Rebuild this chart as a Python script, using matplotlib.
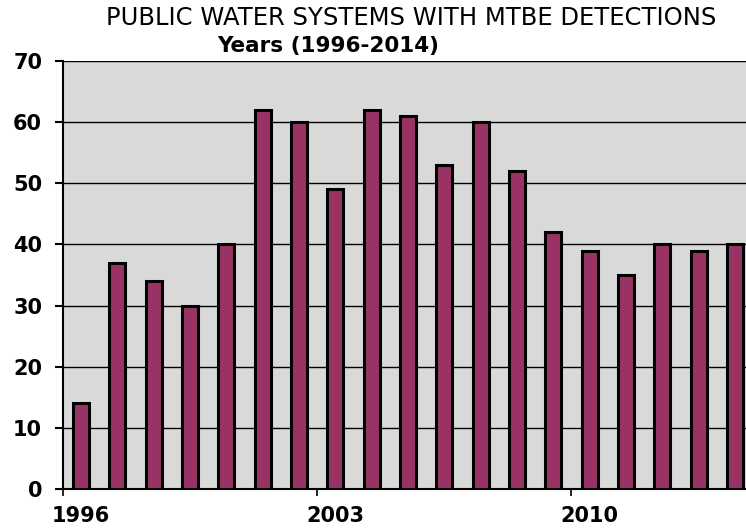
import matplotlib.pyplot as plt
import numpy as np

YEARS = list(range(1996, 2015))
DETECTIONS = [14, 37, 34, 30, 40, 62, 60, 49, 62, 61, 53, 60, 52, 42, 39, 35, 40, 39, 40]
YTICKS = [0, 10, 20, 30, 40, 50, 60, 70]
XLABEL_YEARS = [1996, 2003, 2010]

plt.rcParams["font.family"] = ["DejaVu Sans"]

fig = plt.figure(figsize=(7.46, 5.29), dpi=100)
# axes runs slightly past the right edge of the picture, as in the original
ax = fig.add_axes([63 / 746, 1 - 489 / 529, 690 / 746, 428 / 529])
ax.set_facecolor("#D9D9D9")

x = np.arange(len(YEARS))
ax.bar(x, DETECTIONS, width=0.44, color="#993366", edgecolor="black",
       linewidth=2.2, zorder=3)

ax.set_xlim(-0.5, len(YEARS) - 0.5)
ax.set_ylim(0, 70)
ax.set_yticks(YTICKS)
ax.set_yticklabels([str(v) for v in YTICKS], fontsize=15, fontweight="bold")
ax.yaxis.grid(True, color="black", linewidth=1.0, zorder=1)
ax.set_axisbelow(True)
ax.tick_params(axis="y", direction="out", length=6, width=1.5, pad=9)

# ticks between categories every 7 years, labels at category centres
ax.set_xticks([YEARS.index(y) - 0.5 for y in XLABEL_YEARS])
ax.set_xticklabels([])
ax.set_xticks([YEARS.index(y) for y in XLABEL_YEARS], minor=True)
ax.set_xticklabels([str(y) for y in XLABEL_YEARS], minor=True,
                   fontsize=15, fontweight="bold")
ax.tick_params(axis="x", which="major", direction="out", length=5, width=1.2)
ax.tick_params(axis="x", which="minor", length=0, pad=12)

for side in ["top", "right"]:
    ax.spines[side].set_visible(False)
ax.spines["left"].set_linewidth(1.5)
ax.spines["bottom"].set_linewidth(1.5)

fig.text(411 / 746, 1 - 18 / 529, "PUBLIC WATER SYSTEMS WITH MTBE DETECTIONS",
         ha="center", va="center", fontsize=17.5)
fig.text(328 / 746, 1 - 46 / 529, "Years (1996-2014)",
         ha="center", va="center", fontsize=15.5, fontweight="bold")

fig.savefig("out.png", dpi=100, facecolor="white")
